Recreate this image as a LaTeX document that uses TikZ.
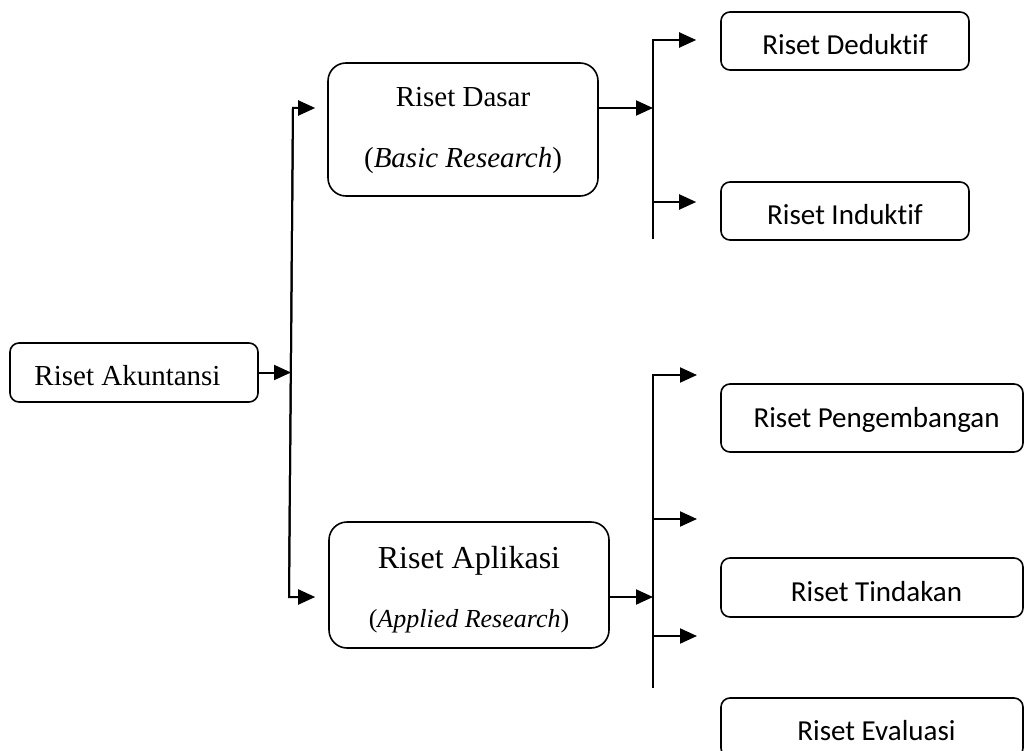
\documentclass[tikz,border=0pt]{standalone}
\usepackage{fontspec}
\setmainfont{Liberation Serif}
\newfontfamily\calib[Ligatures=NoCommon]{Carlito}
\usetikzlibrary{arrows.meta}
\begin{document}
\begin{tikzpicture}[x=1pt,y=-1pt,
  ln/.style={line width=2pt},
  arr/.style={line width=2pt,-{Triangle[length=17pt,width=15pt]}},
  box/.style={draw,line width=1.6pt,rounded corners=9pt,inner sep=0pt},
  bigbox/.style={box,rounded corners=18pt},
  calb/.style={font=\calib\fontsize{29}{33}\selectfont},
  serif/.style={font=\fontsize{29}{33}\selectfont}]
\useasboundingbox (0,0) rectangle (1024,751);
\clip (0,0) rectangle (1024,751);

% left box
\node[box,serif,minimum width=248pt,minimum height=59pt,text height=25pt,text depth=0pt] (akun) at (134,372.5) {Riset Akuntansi\hspace*{13pt}};

% middle boxes
\node[bigbox,minimum width=270pt,minimum height=133pt] (dasar) at (463,129.5) {};
\node[serif,anchor=base,inner sep=0pt] (dasarA) at (463,107) {Riset Dasar};
\node[serif,anchor=base,inner sep=0pt] (dasarB) at (463,168) {(\textit{Basic Research})};

\node[bigbox,minimum width=280pt,minimum height=126pt] (apl) at (469,585) {};
\node[font=\fontsize{32}{36}\selectfont,anchor=base,inner sep=0pt] (aplA) at (469,568) {Riset Aplikasi};
\node[font=\fontsize{26}{30}\selectfont,anchor=base,inner sep=0pt] (aplB) at (469,627) {(\textit{Applied Research})};

% right boxes
\node[box,calb,minimum width=248pt,minimum height=58pt,text height=28pt,text depth=0pt] (ded) at (845,41) {Riset Deduktif};
\node[box,calb,minimum width=248pt,minimum height=58pt,text height=28pt,text depth=0pt] (ind) at (845,211) {Riset Induktif};
\node[box,calb,minimum width=302pt,minimum height=68pt,text height=18pt,text depth=0pt] (peng) at (872,418) {\hspace*{9pt}Riset Pengembangan};
\node[box,calb,minimum width=302pt,minimum height=59pt,text height=27pt,text depth=0pt] (tind) at (872,587.5) {\hspace*{9pt}Riset Tindakan};
\node[box,calb,minimum width=302pt,minimum height=59pt,text height=25pt,text depth=0pt] (eval) at (872,727.5) {\hspace*{9pt}Riset Evaluasi};

% left junction
\coordinate (lTop) at (293,108);
\coordinate (lBot) at (289,597);
\coordinate (lMid) at (291,372.5);
\draw[arr] (akun.east) -- (lMid);
\draw[arr,shorten >=12pt] (lBot) -- (lTop) -- (lTop -| dasar.west);
\draw[arr,shorten >=13pt] (lTop) -- (lBot) -- (lBot -| apl.west);

% upper right junction
\coordinate (uIn) at (653,108);
\coordinate (uTop) at (653,40);
\coordinate (uMid) at (653,202);
\coordinate (uBot) at (653,239);
\draw[arr] (dasar.east |- uIn) -- (uIn);
\draw[ln] (uTop) -- (uBot);
\draw[arr,shorten >=24pt] (uBot) -- (uTop) -- (uTop -| ded.west);
\draw[arr,shorten >=24pt] (uMid) -- (uMid -| ind.west);

% lower right junction
\coordinate (bIn) at (653,597);
\coordinate (bTop) at (653,375);
\coordinate (bBot) at (653,688);
\coordinate (bA) at (653,519);
\coordinate (bB) at (653,636);
\coordinate (tA) at (697,375);
\coordinate (tB) at (697,519);
\coordinate (tC) at (697,636);
\draw[arr] (apl.east |- bIn) -- (bIn);
\draw[arr] (bBot) -- (bTop) -- (tA);
\draw[arr] (bA) -- (tB);
\draw[arr] (bB) -- (tC);
\end{tikzpicture}
\end{document}
